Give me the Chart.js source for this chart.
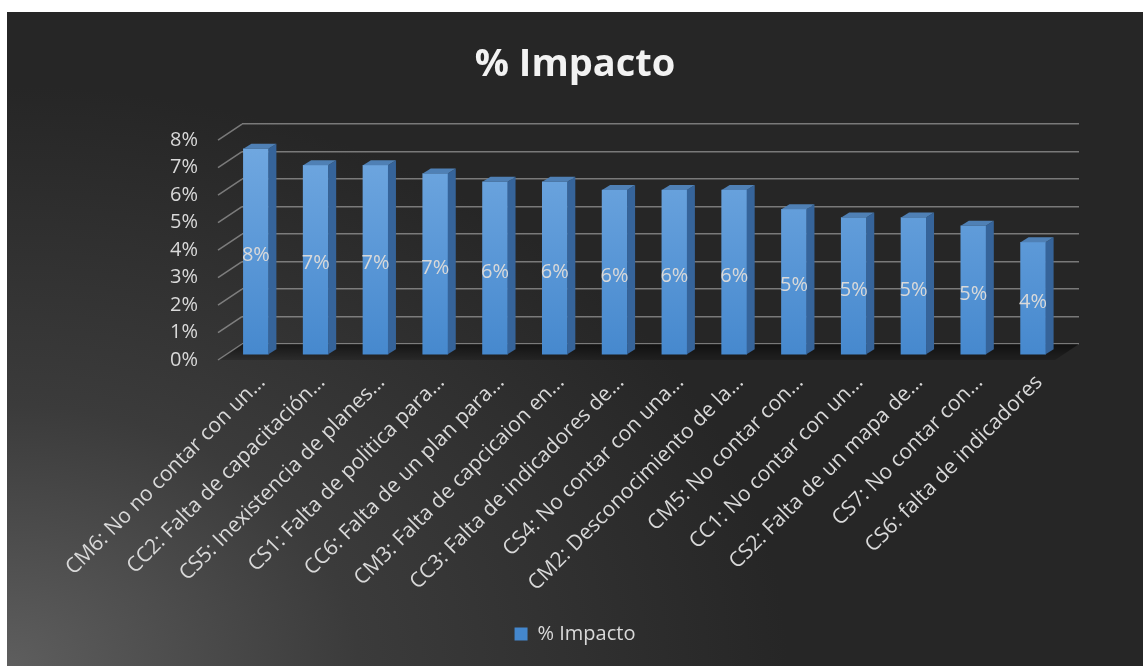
<!DOCTYPE html>
<html>
<head>
<meta charset="utf-8">
<script src="https://cdn.jsdelivr.net/npm/chart.js@4/dist/chart.umd.min.js"></script>
<style>
  html, body { margin: 0; padding: 0; background: #fff; }
  #box {
    position: absolute; left: 7px; top: 12px; width: 1136px; height: 654px;
    background: radial-gradient(ellipse 780px 580px at 0% 100%, #5e5e5e 0%, #3b3b3b 45%, #262626 100%);
  }
</style>
</head>
<body>
<div id="box"><canvas id="impactChart" width="1136" height="654"></canvas></div>
<script>
const categories = [
    "CM6: No no contar con un...",
    "CC2: Falta de capacitación...",
    "CS5: Inexistencia de planes...",
    "CS1: Falta de politica para...",
    "CC6: Falta de un plan para...",
    "CM3: Falta de capcicaion en...",
    "CC3: Falta de indicadores de...",
    "CS4: No contar con una...",
    "CM2: Desconocimiento de la...",
    "CM5: No contar con...",
    "CC1: No contar con un...",
    "CS2: Falta de un mapa de...",
    "CS7: No contar con...",
    "CS6: falta de indicadores"
];

// % values per cause
const impacto = [7.5, 6.9, 6.9, 6.6, 6.3, 6.3, 6.0, 6.0, 6.0, 5.3, 5.0, 5.0, 4.7, 4.1];

const yTicks = [0, 1, 2, 3, 4, 5, 6, 7, 8];

const textColor = "#d9d9d9";
const depthX = -16, depthY = 11;   // front plane offset of the bars
const wallX = -24, wallY = 16;     // left edge of the floor/wall lines

const threeD = {
    id: "threeD",
    beforeDatasetsDraw(chart) {
        const { ctx, chartArea: a, scales } = chart;
        const y = scales.y;
        ctx.save();
        // floor
        const g = ctx.createLinearGradient(0, a.bottom, 0, a.bottom + wallY);
        g.addColorStop(0, "rgba(0,0,0,0.55)");
        g.addColorStop(1, "rgba(0,0,0,0.15)");
        ctx.fillStyle = g;
        ctx.beginPath();
        ctx.moveTo(a.left, a.bottom);
        ctx.lineTo(a.right, a.bottom);
        ctx.lineTo(a.right + wallX, a.bottom + wallY);
        ctx.lineTo(a.left + wallX, a.bottom + wallY);
        ctx.closePath();
        ctx.fill();
        // side wall lines
        ctx.strokeStyle = "rgba(190,190,190,0.55)";
        ctx.lineWidth = 1.5;
        yTicks.forEach(t => {
            const py = y.getPixelForValue(t);
            ctx.beginPath();
            ctx.moveTo(a.left, py);
            ctx.lineTo(a.left + wallX, py + wallY);
            ctx.stroke();
        });
        ctx.restore();
        ctx.save();
        ctx.translate(depthX, depthY);
    },
    afterDatasetsDraw(chart) {
        const { ctx } = chart;
        const meta = chart.getDatasetMeta(0);
        const dx = 8, dy = -5;
        meta.data.forEach((bar, i) => {
            const x0 = bar.x - bar.width / 2, x1 = bar.x + bar.width / 2;
            const top = bar.y, base = bar.base;
            // side face
            ctx.fillStyle = "#36649a";
            ctx.beginPath();
            ctx.moveTo(x1, top);
            ctx.lineTo(x1 + dx, top + dy);
            ctx.lineTo(x1 + dx, base + dy);
            ctx.lineTo(x1, base);
            ctx.closePath();
            ctx.fill();
            // top face
            ctx.fillStyle = "#4f80b5";
            ctx.beginPath();
            ctx.moveTo(x0, top);
            ctx.lineTo(x1, top);
            ctx.lineTo(x1 + dx, top + dy);
            ctx.lineTo(x0 + dx, top + dy);
            ctx.closePath();
            ctx.fill();
            // value label
            ctx.fillStyle = textColor;
            ctx.font = "20px 'Open Sans'";
            ctx.textAlign = "center";
            ctx.textBaseline = "middle";
            ctx.fillText(Math.round(impacto[i]) + "%", bar.x, (top + base) / 2 + 4);
        });
        ctx.restore();
    }
};

const ctx = document.getElementById("impactChart").getContext("2d");

new Chart(ctx, {
    type: "bar",
    data: {
        labels: categories,
        datasets: [{
            label: "% Impacto",
            data: impacto,
            clip: false,
            barThickness: 25,
            backgroundColor: function (context) {
                const area = context.chart.chartArea;
                if (!area) return "#5b9bd5";
                const g = context.chart.ctx.createLinearGradient(0, area.top, 0, area.bottom + depthY);
                g.addColorStop(0, "#72a9e1");
                g.addColorStop(1, "#4487cd");
                return g;
            }
        }]
    },
    options: {
        responsive: false,
        animation: false,
        layout: { padding: { left: 0, right: 0, top: 0, bottom: 12 } },
        plugins: {
            title: {
                display: true,
                text: "% Impacto",
                color: "#f2f2f2",
                font: { family: "'Open Sans'", size: 38, weight: "bold" },
                padding: { top: 30, bottom: 36.5 }
            },
            legend: {
                position: "bottom",
                labels: {
                    color: textColor,
                    font: { family: "'Open Sans'", size: 20 },
                    boxWidth: 13,
                    boxHeight: 13,
                    padding: 10
                }
            },
            tooltip: { enabled: false }
        },
        scales: {
            x: {
                grid: { display: false },
                border: { display: false },
                ticks: {
                    color: textColor,
                    font: { family: "'Open Sans'", size: 21 },
                    minRotation: 45,
                    maxRotation: 45,
                    padding: 18,
                    labelOffset: -10,
                    autoSkip: false
                },
                afterFit(scale) { scale.height = 270; }
            },
            y: {
                min: 0,
                max: 8,
                ticks: {
                    stepSize: 1,
                    color: textColor,
                    font: { family: "'Open Sans'", size: 20 },
                    padding: 44,
                    labelOffset: 16,
                    callback: v => v + "%"
                },
                grid: { color: "rgba(190,190,190,0.55)", lineWidth: 1.5, drawTicks: false },
                border: { display: false },
                afterFit(scale) { scale.width = 235; }
            },
            yRight: {
                position: "right",
                ticks: { display: false },
                grid: { display: false },
                border: { display: false },
                afterFit(scale) { scale.width = 64; }
            }
        }
    },
    plugins: [threeD]
});
</script>
</body>
</html>
